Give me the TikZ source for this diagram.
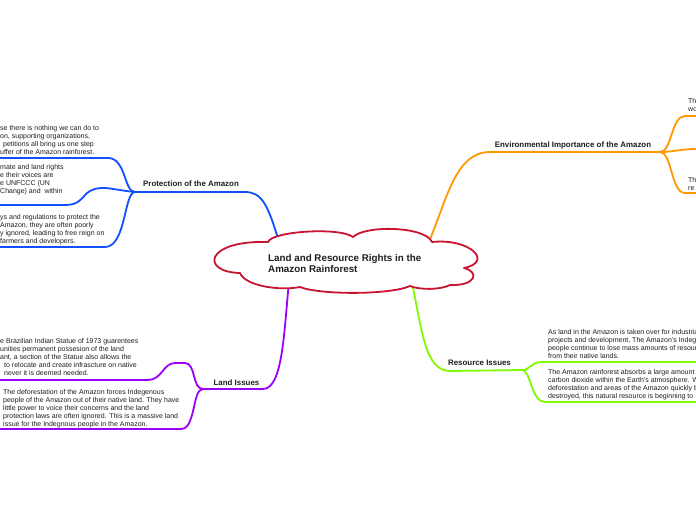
\documentclass[tikz,border=0pt]{standalone}
\usepackage{fontspec}
\setmainfont{Liberation Sans}
\definecolor{cblue}{RGB}{17,80,255}
\definecolor{cpurple}{RGB}{155,0,250}
\definecolor{cgreen}{RGB}{128,250,0}
\definecolor{corange}{RGB}{255,153,0}
\definecolor{ccrimson}{RGB}{200,20,50}
\definecolor{ctext}{RGB}{30,30,30}
\begin{document}
\begin{tikzpicture}[x=1pt,y=-1pt,
  body/.style={font=\fontsize{7}{8}\selectfont, align=left, inner sep=0pt, anchor=north west, text=ctext},
  lbl/.style={font=\bfseries\fontsize{7.9}{9}\selectfont, inner sep=0pt, text=ctext},
  conn/.style={line width=1.8pt, line cap=round, line join=round},
  cloudline/.style={line width=1.8pt, draw=ccrimson, fill=white, line join=round}]
\fill[white] (0,0) rectangle (696,520);
\useasboundingbox (0,0) rectangle (696,520);

% anchor coordinates
\coordinate (cP) at (279,242);
\coordinate (cE) at (428,244);
\coordinate (cL) at (289,282);
\coordinate (cR) at (412,283);
\coordinate (jP) at (135,192);
\coordinate (jE) at (660,152);
\coordinate (jL) at (203,389);
\coordinate (jR) at (522,370);
\coordinate (eP1) at (0,158);
\coordinate (eP2) at (0,205);
\coordinate (eP3) at (0,247);
\coordinate (eL1) at (0,380);
\coordinate (eL2) at (0,429);
\coordinate (eR1) at (696,362);
\coordinate (eR2) at (696,402);
\coordinate (eE1) at (696,116);
\coordinate (eE2) at (696,149);
\coordinate (eE3) at (696,193);

% Protection (blue)
\draw[conn, cblue] (cP) .. controls (268,205) and (262,192) .. (245,192) -- (jP);
\draw[conn, cblue] (jP) .. controls (124,192) and (126,158) .. (108,158) -- (eP1);
\draw[conn, cblue] (jP) .. controls (112,190) and (98,183) .. (86,194) .. controls (80,201) and (76,205) .. (65,205) -- (eP2);
\draw[conn, cblue] (jP) .. controls (124,192) and (126,247) .. (105,247) -- (eP3);

% Environmental (orange)
\draw[conn, corange] (cE) .. controls (447,200) and (455,152) .. (490,152) -- (jE);
\draw[conn, corange] (jE) .. controls (672,152) and (671,116) .. (685,116) -- (eE1);
\draw[conn, corange] (jE) .. controls (674,152) and (680,149) .. (eE2);
\draw[conn, corange] (jE) .. controls (672,152) and (671,193) .. (685,193) -- (eE3);

% Land Issues (purple)
\draw[conn, cpurple] (cL) .. controls (284,330) and (283,389) .. (263,389) -- (jL);
\draw[conn, cpurple] (jL) .. controls (192,389) and (196,363) .. (185,363) -- (175,363) .. controls (163,363) and (162,380) .. (148,380) -- (eL1);
\draw[conn, cpurple] (jL) .. controls (192,389) and (196,429) .. (181,429) -- (eL2);

% Resource Issues (green)
\draw[conn, cgreen] (cR) .. controls (422,330) and (425,371) .. (450,371) -- (jR);
\draw[conn, cgreen] (jR) .. controls (531,370) and (530,362) .. (542,362) -- (eR1);
\draw[conn, cgreen] (jR) .. controls (531,370) and (531,402) .. (545,402) -- (eR2);

% central cloud
\draw[cloudline] (268,242)
  .. controls (272,231) and (340,227) .. (353,237)
  .. controls (365,225) and (425,226) .. (432,242)
  .. controls (470,238) and (494,262) .. (464,268)
  .. controls (480,272) and (476,286) .. (450,285)
  .. controls (440,290) and (420,290) .. (410,286)
  .. controls (390,295) and (320,295) .. (300,287)
  .. controls (280,291) and (245,286) .. (240,273)
  .. controls (200,272) and (205,240) .. (268,242) -- cycle;
\node[font=\bfseries\fontsize{9.8}{11}\selectfont, align=left, inner sep=0pt, anchor=north west, text=ctext] (root) at (268,254)
  {Land and Resource Rights in the\\Amazon Rainforest};

% branch labels
\node[lbl] (lP) at (191,184) {Protection of the Amazon};
\node[lbl] (lE) at (573,145) {Environmental Importance of the Amazon};
\node[lbl] (lL) at (236.5,382.5) {Land Issues};
\node[lbl] (lR) at (479.5,363) {Resource Issues};

% leaf texts
\node[body] (tP1) at (0,125.2) {se there is nothing we can do to\\on, supporting organizations,\\\hspace*{3pt}petitions all bring us one step\\uffer of the Amazon rainforest.};
\node[body] (tP2) at (0,164.2) {mate and land rights\\e their voices are\\e UNFCCC (UN\\Change) and\ \ within};
\node[body] (tP3) at (0,214.2) {ys and regulations to protect the\\Amazon, they are often poorly\\y ignored, leading to free reign on\\farmers and developers.};
\node[body] (tL1) at (0,338.2) {e Brazilian Indian Statue of 1973 guarentees\\unities permanent possesion of the land\\ant, a section of the Statue also allows the\\\hspace*{4pt}to relocate and create infrascture on native\\\hspace*{4pt}never it is deemed needed.};
\node[body] (tL2) at (3,389.2) {The deforestation of the Amazon forces Indegenous\\people of the Amazon out of their native land. They have\\little power to voice their concerns and the land\\protection laws are often ignored. This is a massive land\\issue for the Indegnous people in the Amazon.};
\node[body] (tR1) at (548,328.9) {As land in the Amazon is taken over for industria\\projects and development, The Amazon's Indeg\\people continue to lose mass amounts of resour\\from their native lands.};
\node[body] (tR2) at (548,369.2) {The Amazon rainforest absorbs a large amount\\carbon dioxide within the Earth's atmosphere. W\\deforestation and areas of the Amazon quickly b\\destroyed, this natural resource is beginning to};
\node[body] (tE1) at (688,98.2) {Th\\wo};
\node[body] (tE2) at (688,177.2) {Th\\re};
\end{tikzpicture}
\end{document}
